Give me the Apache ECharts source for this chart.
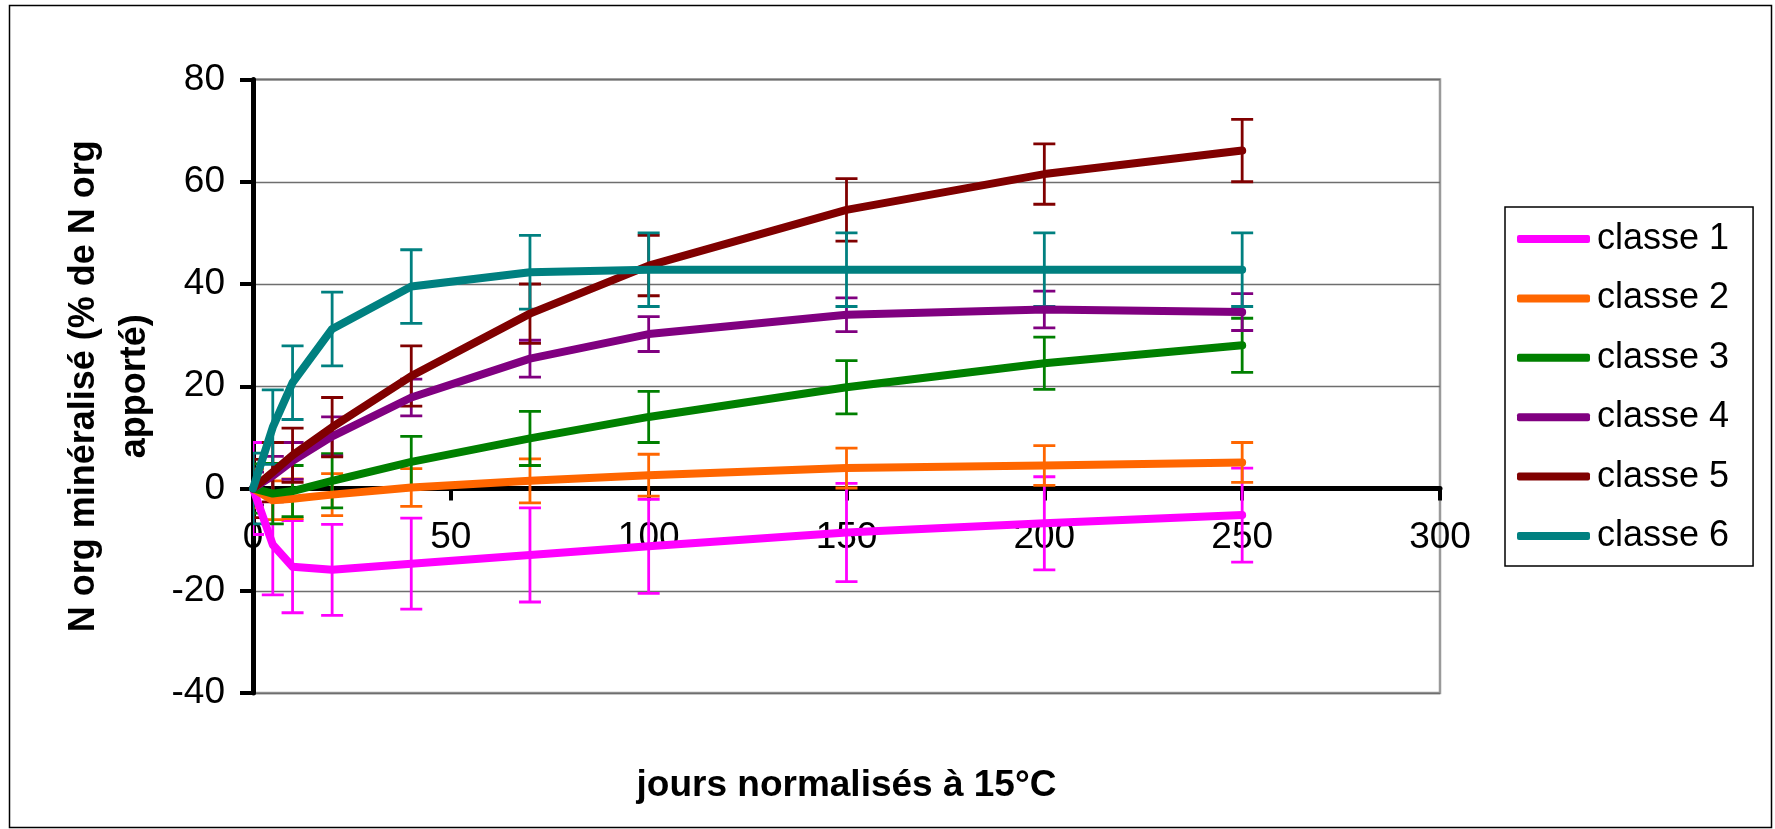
<!DOCTYPE html>
<html>
<head>
<meta charset="utf-8">
<script src="https://cdn.jsdelivr.net/npm/echarts@6/dist/echarts.min.js"></script>
<style>
html,body{margin:0;padding:0;background:#fff;}
#chart{width:1775px;height:829px;}
</style>
</head>
<body>
<div id="chart"></div>
<script>
// ---- data ----
const days = [0, 5, 10, 20, 40, 70, 100, 150, 200, 250];
const classNames = ['classe 1', 'classe 2', 'classe 3', 'classe 4', 'classe 5', 'classe 6'];
const colors = ['#FF00FF', '#FF6600', '#008000', '#800080', '#800000', '#008080'];

const classe1 = [0, -11.0, -15.3, -15.9, -14.7, -13.0, -11.3, -8.6, -6.8, -5.2];
const classe2 = [0, -2.3, -2.0, -1.2, 0.2, 1.5, 2.6, 4.0, 4.5, 5.1];
const classe3 = [0, -1.0, -0.5, 1.5, 5.2, 9.8, 14.0, 19.8, 24.5, 28.0];
const classe4 = [0, 2.5, 5.4, 10.2, 17.8, 25.4, 30.2, 34.0, 35.0, 34.5];
const classe5 = [0, 3.2, 6.5, 12.0, 22.0, 34.2, 43.6, 54.5, 61.5, 66.1];
const classe6 = [0, 12.0, 20.7, 31.2, 39.5, 42.3, 42.8, 42.8, 42.8, 42.8];

const err1 = [9.0, 9.8, 9.0, 8.9, 8.9, 9.2, 9.2, 9.6, 9.1, 9.2];
const err2 = [3.8, 3.8, 3.9, 4.1, 3.7, 4.3, 4.1, 3.9, 3.9, 3.9];
const err3 = [4.8, 5.9, 5.0, 5.3, 5.0, 5.3, 5.0, 5.2, 5.1, 5.3];
const err4 = [3.2, 3.8, 3.6, 3.8, 3.6, 3.6, 3.4, 3.3, 3.6, 3.6];
const err5 = [5.7, 5.8, 5.3, 5.8, 5.9, 5.8, 5.9, 6.1, 5.9, 6.1];
const err6 = [6.9, 7.3, 7.2, 7.2, 7.2, 7.2, 7.2, 7.2, 7.2, 7.2];

const xTicks = [0, 50, 100, 150, 200, 250, 300];
const yTicks = [-40, -20, 0, 20, 40, 60, 80];

const seriesValues = [classe1, classe2, classe3, classe4, classe5, classe6];
const seriesErrors = [err1, err2, err3, err4, err5, err6];

const FONT = "'Liberation Sans', Arial, sans-serif";

function makeErrRender(color) {
  return function (params, api) {
    const x = api.value(0), lo = api.value(1), hi = api.value(2);
    const p1 = api.coord([x, lo]);
    const p2 = api.coord([x, hi]);
    const hw = 11;
    const style = { stroke: color, lineWidth: 2.8, fill: null };
    return {
      type: 'group',
      children: [
        { type: 'line', shape: { x1: p1[0], y1: p1[1], x2: p2[0], y2: p2[1] }, style: style },
        { type: 'line', shape: { x1: p1[0] - hw, y1: p1[1], x2: p1[0] + hw, y2: p1[1] }, style: style },
        { type: 'line', shape: { x1: p2[0] - hw, y1: p2[1], x2: p2[0] + hw, y2: p2[1] }, style: style }
      ]
    };
  };
}

const series = [];
seriesValues.forEach(function (vals, i) {
  const errs = seriesErrors[i];
  series.push({
    name: classNames[i],
    type: 'line',
    data: days.map(function (d, k) { return [d, vals[k]]; }),
    symbol: 'none',
    lineStyle: { color: colors[i], width: 8, cap: 'round', join: 'round' },
    itemStyle: { color: colors[i] },
    z: 3
  });
  series.push({
    name: 'err ' + classNames[i],
    type: 'custom',
    clip: true,
    renderItem: makeErrRender(colors[i]),
    data: days.map(function (d, k) { return [d, vals[k] - errs[k], vals[k] + errs[k]]; }),
    encode: { x: 0, y: [1, 2] },
    z: 3
  });
});

const chart = echarts.init(document.getElementById('chart'), null, { renderer: 'canvas' });
chart.setOption({
  animation: false,
  backgroundColor: '#ffffff',
  grid: {
    left: 253, top: 79.5, width: 1187, height: 613.5,
    outerBoundsMode: 'none', containLabel: false,
    show: true, borderColor: '#9a9a9a', borderWidth: 2.5, backgroundColor: '#ffffff'
  },
  legend: {
    data: classNames,
    orient: 'vertical',
    left: 1505, top: 207,
    padding: [14, 24, 12, 12],
    itemGap: 23.4,
    itemWidth: 73, itemHeight: 8,
    icon: 'roundRect',
    borderColor: '#000', borderWidth: 1.5,
    backgroundColor: '#fff',
    selectedMode: false,
    textStyle: { fontFamily: FONT, fontSize: 36, lineHeight: 36, color: '#000', padding: [0, 0, 0, 2] }
  },
  xAxis: {
    type: 'value', min: xTicks[0], max: xTicks[xTicks.length - 1], interval: 50,
    name: 'jours normalisés à 15°C',
    nameLocation: 'middle', nameGap: 74,
    nameTextStyle: { fontFamily: FONT, fontSize: 37, fontWeight: 'bold', color: '#000', lineHeight: 37 },
    axisLine: { onZero: true, lineStyle: { color: '#000', width: 5 } },
    axisTick: { show: true, inside: false, length: 12, lineStyle: { color: '#000', width: 4 } },
    axisLabel: { fontFamily: FONT, fontSize: 37, lineHeight: 37, color: '#000', margin: -174 },
    splitLine: { show: false }
  },
  yAxis: {
    type: 'value', min: yTicks[0], max: yTicks[yTicks.length - 1], interval: 20,
    name: 'N org minéralisé (% de N org\napporté)',
    nameLocation: 'middle', nameGap: 92, nameRotate: 90,
    nameTextStyle: { fontFamily: FONT, fontSize: 36, fontWeight: 'bold', color: '#000', lineHeight: 51 },
    axisLine: { onZero: false, lineStyle: { color: '#000', width: 5 } },
    axisTick: { show: true, inside: false, length: 13, lineStyle: { color: '#000', width: 4 } },
    axisLabel: { fontFamily: FONT, fontSize: 37, color: '#000', margin: 28 },
    splitLine: { show: true, lineStyle: { color: '#6e6e6e', width: 1.3 } }
  },
  graphic: [{
    type: 'rect', z: -1, silent: true,
    shape: { x: 9.5, y: 5.5, width: 1762, height: 822 },
    style: { fill: null, stroke: '#000', lineWidth: 1.5 }
  }],
  series: series
});
</script>
</body>
</html>
